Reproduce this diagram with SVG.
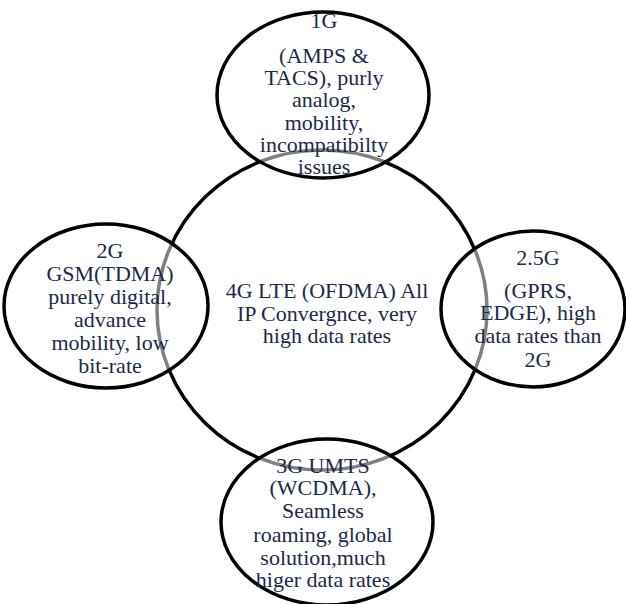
<svg xmlns="http://www.w3.org/2000/svg" width="626" height="604" viewBox="0 0 626 604">
<style>
.main{fill:#ffffff;stroke:#000;stroke-width:3.5}
.sat{fill:#ffffff;fill-opacity:0.5;stroke:#000;stroke-width:3.5}
.t{font-size:22px;fill:#1c2a4a;text-anchor:middle}
</style>
<rect width="626" height="604" fill="#ffffff"/>
<g id="node-4g">
<ellipse class="main" cx="322" cy="310" rx="165" ry="160"/>
<g class="t" font-family="Liberation Serif, Times New Roman, serif">
<text x="327" y="298">4G LTE (OFDMA) All</text>
<text x="327" y="321">IP Convergnce, very</text>
<text x="327" y="343">high data rates</text>
</g>
</g>
<g id="node-1g">
<ellipse class="sat" cx="323" cy="95" rx="106" ry="83"/>
<g class="t" font-family="Liberation Serif, Times New Roman, serif">
<text x="324" y="28">1G</text>
<text x="324" y="63">(AMPS &amp;</text>
<text x="324" y="85">TACS), purly</text>
<text x="324" y="107">analog,</text>
<text x="324" y="130">mobility,</text>
<text x="324" y="152">incompatibilty</text>
<text x="324" y="174">issues</text>
</g>
</g>
<g id="node-2g">
<ellipse class="sat" cx="106" cy="306" rx="102" ry="82"/>
<g class="t" font-family="Liberation Serif, Times New Roman, serif">
<text x="110" y="258">2G</text>
<text x="110" y="281">GSM(TDMA)</text>
<text x="110" y="304">purely digital,</text>
<text x="110" y="327">advance</text>
<text x="110" y="350">mobility, low</text>
<text x="110" y="373">bit-rate</text>
</g>
</g>
<g id="node-25g">
<ellipse class="sat" cx="533" cy="309" rx="92" ry="78"/>
<g class="t" font-family="Liberation Serif, Times New Roman, serif">
<text x="538" y="265">2.5G</text>
<text x="538" y="298">(GPRS,</text>
<text x="538" y="320">EDGE), high</text>
<text x="538" y="343">data rates than</text>
<text x="538" y="367">2G</text>
</g>
</g>
<g id="node-3g">
<ellipse class="sat" cx="327" cy="522" rx="106" ry="83"/>
<g class="t" font-family="Liberation Serif, Times New Roman, serif">
<text x="323" y="473">3G UMTS</text>
<text x="323" y="495">(WCDMA),</text>
<text x="323" y="518">Seamless</text>
<text x="323" y="542">roaming, global</text>
<text x="323" y="565">solution,much</text>
<text x="323" y="587">higer data rates</text>
</g>
</g>
<g id="connectors"/>
</svg>
